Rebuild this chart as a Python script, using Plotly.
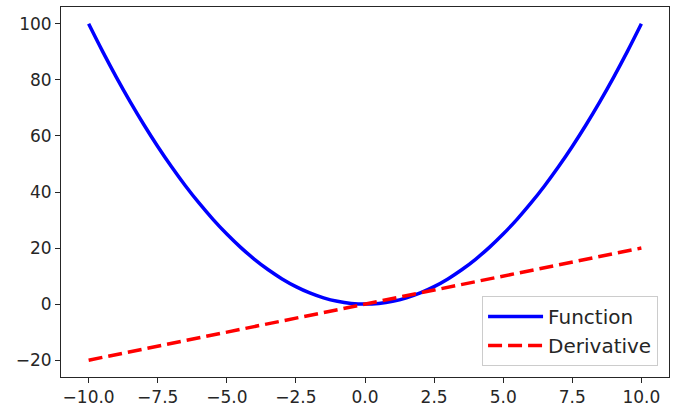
import plotly.graph_objects as go

x_vals = [-10, -9.5, -9, -8.5, -8, -7.5, -7, -6.5, -6, -5.5, -5, -4.5, -4, -3.5, -3, -2.5, -2, -1.5, -1, -0.5,
          0, 0.5, 1, 1.5, 2, 2.5, 3, 3.5, 4, 4.5, 5, 5.5, 6, 6.5, 7, 7.5, 8, 8.5, 9, 9.5, 10]
function_vals = [100, 90.25, 81, 72.25, 64, 56.25, 49, 42.25, 36, 30.25, 25, 20.25, 16, 12.25, 9, 6.25, 4, 2.25, 1, 0.25,
                 0, 0.25, 1, 2.25, 4, 6.25, 9, 12.25, 16, 20.25, 25, 30.25, 36, 42.25, 49, 56.25, 64, 72.25, 81, 90.25, 100]
derivative_vals = [-20, -19, -18, -17, -16, -15, -14, -13, -12, -11, -10, -9, -8, -7, -6, -5, -4, -3, -2, -1,
                   0, 1, 2, 3, 4, 5, 6, 7, 8, 9, 10, 11, 12, 13, 14, 15, 16, 17, 18, 19, 20]

x_ticks = [-10, -7.5, -5, -2.5, 0, 2.5, 5, 7.5, 10]
x_tick_labels = ["\u221210.0", "\u22127.5", "\u22125.0", "\u22122.5", "0.0", "2.5", "5.0", "7.5", "10.0"]
y_ticks = [-20, 0, 20, 40, 60, 80, 100]
y_tick_labels = ["\u221220", "0", "20", "40", "60", "80", "100"]

fig = go.Figure()
fig.add_trace(go.Scatter(x=x_vals, y=function_vals, mode="lines", name="Function",
                         line=dict(color="#0000ff", width=3.5, shape="spline")))
fig.add_trace(go.Scatter(x=x_vals, y=derivative_vals, mode="lines", name="Derivative",
                         line=dict(color="#ff0000", width=3.5, dash="14px,6px")))

axis_common = dict(showgrid=False, zeroline=False, showline=True, linecolor="#262626", linewidth=1,
                   mirror=True, ticks="outside", ticklen=5, tickwidth=1, tickcolor="#262626",
                   tickfont=dict(family="DejaVu Sans", size=17, color="#262626"))

fig.update_layout(
    width=680, height=418,
    margin=dict(l=61, r=11, t=7, b=41),
    paper_bgcolor="white", plot_bgcolor="white",
    xaxis=dict(range=[-11, 11], tickvals=x_ticks, ticktext=x_tick_labels, automargin=False, **axis_common),
    yaxis=dict(range=[-26, 106], tickvals=y_ticks, ticktext=y_tick_labels, automargin=False, **axis_common),
    legend=dict(x=0.982, y=0.03, xanchor="right", yanchor="bottom",
                bgcolor="rgba(255,255,255,0.8)", bordercolor="#cccccc", borderwidth=1,
                itemwidth=55,
                font=dict(family="DejaVu Sans", size=20, color="#262626")),
    showlegend=True,
)

fig.write_html("out.html", config={"displayModeBar": False},
               post_script="document.body.style.margin='0';")
